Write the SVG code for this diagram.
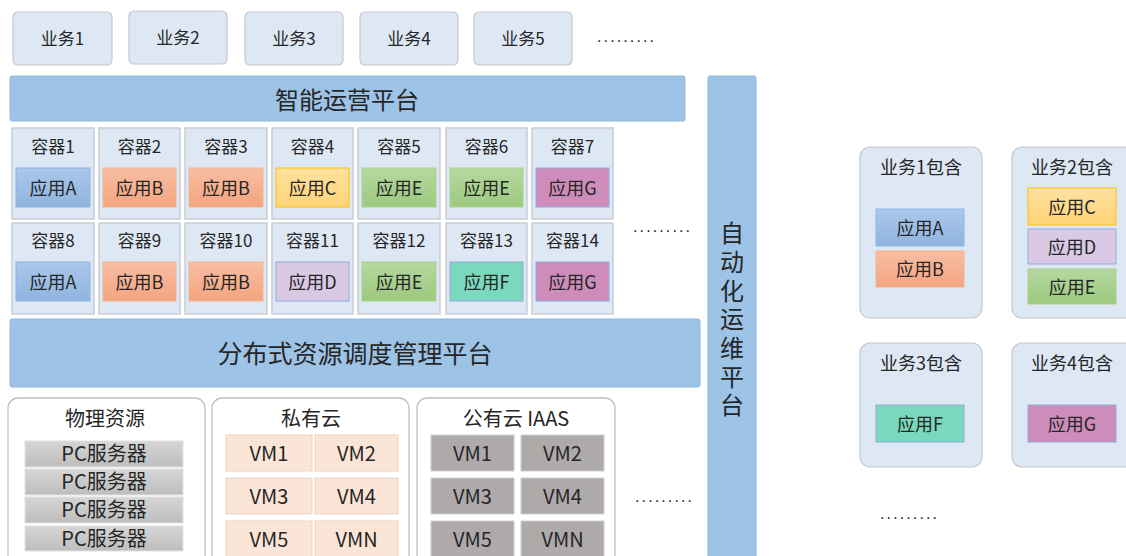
<svg xmlns="http://www.w3.org/2000/svg" width="1126" height="556" viewBox="0 0 1126 556">
<defs>
<linearGradient id="gA" x1="0" y1="0" x2="0" y2="1"><stop offset="0" stop-color="#abc7ea"/><stop offset="1" stop-color="#8fb4e0"/></linearGradient>
<linearGradient id="gB" x1="0" y1="0" x2="0" y2="1"><stop offset="0" stop-color="#f8bea3"/><stop offset="1" stop-color="#f4a47f"/></linearGradient>
<linearGradient id="gC" x1="0" y1="0" x2="0" y2="1"><stop offset="0" stop-color="#ffe1a0"/><stop offset="1" stop-color="#ffd477"/></linearGradient>
<linearGradient id="gE" x1="0" y1="0" x2="0" y2="1"><stop offset="0" stop-color="#b6d8a0"/><stop offset="1" stop-color="#9bc97d"/></linearGradient>
<linearGradient id="gPC" x1="0" y1="0" x2="0" y2="1"><stop offset="0" stop-color="#d6d6d6"/><stop offset="1" stop-color="#bdbdbd"/></linearGradient>
</defs>
<style>
text{font-family:"Noto Sans CJK SC","Noto Sans",sans-serif;fill:#262626;text-anchor:middle;dominant-baseline:central}
.biz{fill:#dde8f4;stroke:#c4c8ce;stroke-width:1.2}
.bar{fill:#9dc3e6;stroke:#8fb8de;stroke-width:1}
.ctr{fill:#dee8f4;stroke:#c9cdd3;stroke-width:1.5}
.grp{fill:#ffffff;stroke:#bfbfbf;stroke-width:1.3}
.A{fill:url(#gA);stroke:#8eb4e3}
.B{fill:url(#gB);stroke:#f4b48f}
.C{fill:url(#gC);stroke:#ffc000}
.D{fill:#d9c9e4;stroke:#8faadc}
.E{fill:url(#gE);stroke:#a9d18e}
.F{fill:#7ad9bd;stroke:#8faadc}
.G{fill:#cd8cb9;stroke:#8faadc}
.pc{fill:url(#gPC);stroke:#e2e2e2}
.vp{fill:#fbe5d6;stroke:#ecd3c2}
.vg{fill:#aeaaaa;stroke:#cfcfcf}
.t16{font-size:17px}
.t18{font-size:18px}
.t20{font-size:20px}
.dots{font-size:16px;font-family:"Liberation Sans",sans-serif;text-anchor:start}
.vert{font-size:24px;writing-mode:vertical-rl;text-anchor:start;letter-spacing:4.7px}
</style>

<g id="business-top">
<g id="biz1"><rect class="biz" x="13" y="12" width="99" height="53" rx="5"/><text class="t16" x="62.5" y="37.5">业务1</text></g>
<g id="biz2"><rect class="biz" x="129" y="11" width="98" height="53" rx="5"/><text class="t16" x="178" y="36.5">业务2</text></g>
<g id="biz3"><rect class="biz" x="245" y="12" width="98" height="53" rx="5"/><text class="t16" x="294" y="37.5">业务3</text></g>
<g id="biz4"><rect class="biz" x="360" y="12" width="98" height="53" rx="5"/><text class="t16" x="409" y="37.5">业务4</text></g>
<g id="biz5"><rect class="biz" x="474" y="12" width="98" height="53" rx="5"/><text class="t16" x="523" y="37.5">业务5</text></g>
<text class="dots" x="597" y="36" textLength="57" lengthAdjust="spacing">.........</text>
</g>

<g id="ops-platform"><rect class="bar" x="10" y="76" width="675" height="45" rx="2"/><text x="347" y="98" style="font-size:24px">智能运营平台</text></g>

<g id="containers">
<g id="c1"><rect class="ctr" x="12" y="128" width="82" height="91"/><text class="t16" x="53" y="145">容器1</text><rect class="A" x="16" y="168" width="74" height="39"/><text class="t18" x="53" y="186.5">应用A</text></g>
<g id="c2"><rect class="ctr" x="99" y="128" width="81" height="91"/><text class="t16" x="139.5" y="145">容器2</text><rect class="B" x="103" y="168" width="73" height="39"/><text class="t18" x="139.5" y="186.5">应用B</text></g>
<g id="c3"><rect class="ctr" x="185" y="128" width="82" height="91"/><text class="t16" x="226" y="145">容器3</text><rect class="B" x="189" y="168" width="74" height="39"/><text class="t18" x="226" y="186.5">应用B</text></g>
<g id="c4"><rect class="ctr" x="272" y="128" width="81" height="91"/><text class="t16" x="312.5" y="145">容器4</text><rect class="C" x="276" y="168" width="73" height="39"/><text class="t18" x="312.5" y="186.5">应用C</text></g>
<g id="c5"><rect class="ctr" x="358" y="128" width="82" height="91"/><text class="t16" x="399" y="145">容器5</text><rect class="E" x="362" y="168" width="74" height="39"/><text class="t18" x="399" y="186.5">应用E</text></g>
<g id="c6"><rect class="ctr" x="446" y="128" width="81" height="91"/><text class="t16" x="486.5" y="145">容器6</text><rect class="E" x="450" y="168" width="73" height="39"/><text class="t18" x="486.5" y="186.5">应用E</text></g>
<g id="c7"><rect class="ctr" x="532" y="128" width="81" height="91"/><text class="t16" x="572.5" y="145">容器7</text><rect class="G" x="536" y="168" width="73" height="39"/><text class="t18" x="572.5" y="186.5">应用G</text></g>

<g id="c8"><rect class="ctr" x="12" y="223" width="82" height="91"/><text class="t16" x="53" y="239">容器8</text><rect class="A" x="16" y="262" width="74" height="39"/><text class="t18" x="53" y="280.5">应用A</text></g>
<g id="c9"><rect class="ctr" x="99" y="223" width="81" height="91"/><text class="t16" x="139.5" y="239">容器9</text><rect class="B" x="103" y="262" width="73" height="39"/><text class="t18" x="139.5" y="280.5">应用B</text></g>
<g id="c10"><rect class="ctr" x="185" y="223" width="82" height="91"/><text class="t16" x="226" y="239">容器10</text><rect class="B" x="189" y="262" width="74" height="39"/><text class="t18" x="226" y="280.5">应用B</text></g>
<g id="c11"><rect class="ctr" x="272" y="223" width="81" height="91"/><text class="t16" x="312.5" y="239">容器11</text><rect class="D" x="276" y="262" width="73" height="39"/><text class="t18" x="312.5" y="280.5">应用D</text></g>
<g id="c12"><rect class="ctr" x="358" y="223" width="82" height="91"/><text class="t16" x="399" y="239">容器12</text><rect class="E" x="362" y="262" width="74" height="39"/><text class="t18" x="399" y="280.5">应用E</text></g>
<g id="c13"><rect class="ctr" x="446" y="223" width="81" height="91"/><text class="t16" x="486.5" y="239">容器13</text><rect class="F" x="450" y="262" width="73" height="39"/><text class="t18" x="486.5" y="280.5">应用F</text></g>
<g id="c14"><rect class="ctr" x="532" y="223" width="81" height="91"/><text class="t16" x="572.5" y="239">容器14</text><rect class="G" x="536" y="262" width="73" height="39"/><text class="t18" x="572.5" y="280.5">应用G</text></g>
<text class="dots" x="633" y="226" textLength="57" lengthAdjust="spacing">.........</text>
</g>

<g id="sched-platform"><rect class="bar" x="10" y="319" width="690" height="68" rx="2"/><text x="355" y="352" style="font-size:25px">分布式资源调度管理平台</text></g>

<g id="auto-ops"><rect class="bar" x="708" y="76" width="48" height="490" rx="2"/>
<text class="vert" x="732" y="221">自动化运维平台</text>
</g>

<g id="physical"><rect class="grp" x="8" y="398" width="197" height="180" rx="10"/><text class="t20" x="105" y="417">物理资源</text>
<rect class="pc" x="25" y="441" width="158" height="26"/><text class="t20" x="104" y="452.5">PC服务器</text>
<rect class="pc" x="25" y="469" width="158" height="26"/><text class="t20" x="104" y="480.5">PC服务器</text>
<rect class="pc" x="25" y="497" width="158" height="26"/><text class="t20" x="104" y="508.5">PC服务器</text>
<rect class="pc" x="25" y="526" width="158" height="25"/><text class="t20" x="104" y="537">PC服务器</text>
</g>

<g id="private-cloud"><rect class="grp" x="212" y="398" width="197" height="180" rx="10"/><text class="t20" x="311" y="417">私有云</text>
<rect class="vp" x="226" y="435" width="86" height="36"/><text class="t20" x="269" y="452">VM1</text>
<rect class="vp" x="315" y="435" width="83" height="36"/><text class="t20" x="356.5" y="452">VM2</text>
<rect class="vp" x="226" y="478" width="86" height="36"/><text class="t20" x="269" y="495">VM3</text>
<rect class="vp" x="315" y="478" width="83" height="36"/><text class="t20" x="356.5" y="495">VM4</text>
<rect class="vp" x="226" y="521" width="86" height="36"/><text class="t20" x="269" y="538">VM5</text>
<rect class="vp" x="315" y="521" width="83" height="36"/><text class="t20" x="356.5" y="538">VMN</text>
</g>

<g id="public-cloud"><rect class="grp" x="417" y="398" width="198" height="180" rx="10"/><text class="t20" x="516" y="417">公有云 IAAS</text>
<rect class="vg" x="431" y="435" width="83" height="36"/><text class="t20" x="472.5" y="452">VM1</text>
<rect class="vg" x="521" y="435" width="83" height="36"/><text class="t20" x="562.5" y="452">VM2</text>
<rect class="vg" x="431" y="478" width="83" height="36"/><text class="t20" x="472.5" y="495">VM3</text>
<rect class="vg" x="521" y="478" width="83" height="36"/><text class="t20" x="562.5" y="495">VM4</text>
<rect class="vg" x="431" y="521" width="83" height="36"/><text class="t20" x="472.5" y="538">VM5</text>
<rect class="vg" x="521" y="521" width="83" height="36"/><text class="t20" x="562.5" y="538">VMN</text>
</g>
<text class="dots" x="635" y="496" textLength="57" lengthAdjust="spacing">.........</text>

<g id="biz1-contains"><rect class="biz" x="860" y="147" width="122" height="171" rx="10"/><text class="t18" x="921" y="166">业务1包含</text>
<rect class="A" x="876" y="209" width="88" height="37"/><text class="t18" x="920" y="226.5">应用A</text>
<rect class="B" x="876" y="251" width="88" height="36"/><text class="t18" x="920" y="268">应用B</text>
</g>
<g id="biz2-contains"><rect class="biz" x="1012" y="147" width="122" height="171" rx="10"/><text class="t18" x="1072" y="166">业务2包含</text>
<rect class="C" x="1028" y="188" width="88" height="37"/><text class="t18" x="1072" y="205.5">应用C</text>
<rect class="D" x="1028" y="229" width="88" height="35"/><text class="t18" x="1072" y="245.5">应用D</text>
<rect class="E" x="1028" y="269" width="88" height="35"/><text class="t18" x="1072" y="285.5">应用E</text>
</g>
<g id="biz3-contains"><rect class="biz" x="860" y="343" width="122" height="124" rx="10"/><text class="t18" x="921" y="362">业务3包含</text>
<rect class="F" x="876" y="405" width="88" height="37"/><text class="t18" x="920" y="422.5">应用F</text>
</g>
<g id="biz4-contains"><rect class="biz" x="1012" y="343" width="122" height="124" rx="10"/><text class="t18" x="1072" y="362">业务4包含</text>
<rect class="G" x="1028" y="405" width="88" height="37"/><text class="t18" x="1072" y="422.5">应用G</text>
</g>
<text class="dots" x="880" y="513" textLength="57" lengthAdjust="spacing">.........</text>
<g id="connectors"/>
</svg>
